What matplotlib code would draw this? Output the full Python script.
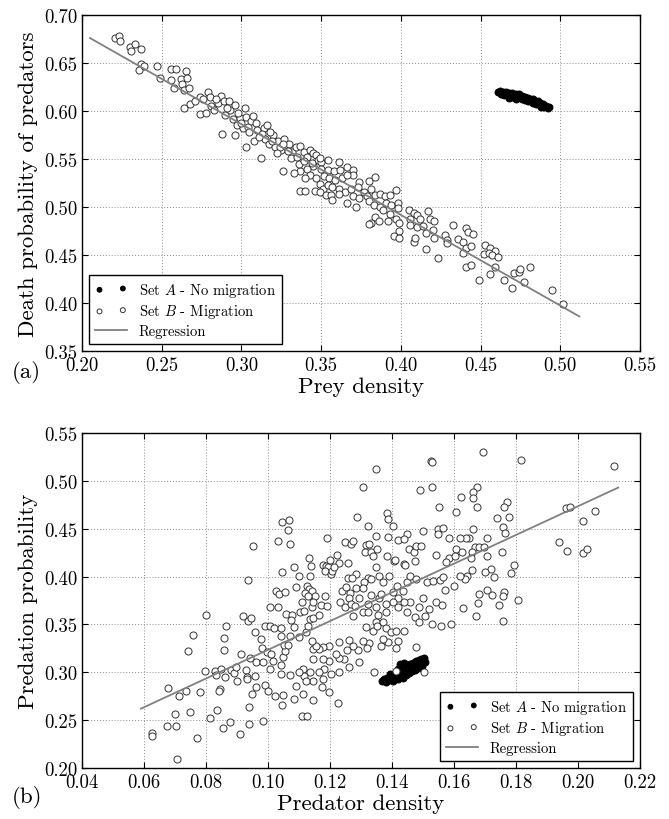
import matplotlib
matplotlib.use("Agg")
import matplotlib.pyplot as plt
import numpy as np
from matplotlib.ticker import FormatStrFormatter

plt.rcParams["font.family"] = "serif"
plt.rcParams["font.serif"] = ["cmr10"]
plt.rcParams["mathtext.fontset"] = "cm"
plt.rcParams["axes.formatter.use_mathtext"] = True

# ---- panel (a): prey density vs death probability of predators ----
prey_set_a = [
    (0.461, 0.6195), (0.462, 0.6205), (0.463, 0.618), (0.464, 0.620), (0.465, 0.6185),
    (0.466, 0.6175), (0.466, 0.620), (0.467, 0.6165), (0.468, 0.619), (0.469, 0.617),
    (0.470, 0.615), (0.470, 0.6185), (0.471, 0.616), (0.472, 0.6175), (0.473, 0.614),
    (0.473, 0.6165), (0.474, 0.618), (0.475, 0.615), (0.476, 0.6125), (0.476, 0.616),
    (0.477, 0.614), (0.478, 0.6115), (0.478, 0.615), (0.479, 0.613), (0.480, 0.6105),
    (0.480, 0.614), (0.481, 0.612), (0.482, 0.6095), (0.483, 0.6125), (0.483, 0.6085),
    (0.484, 0.6105), (0.485, 0.6075), (0.486, 0.610), (0.487, 0.606), (0.487, 0.6085),
    (0.488, 0.6045), (0.489, 0.607), (0.490, 0.604), (0.491, 0.6055), (0.492, 0.6035),
    (0.493, 0.6045), (0.468, 0.614), (0.472, 0.613), (0.465, 0.6165),
]

prey_set_b = [
    (0.221, 0.676), (0.223, 0.678), (0.224, 0.673), (0.230, 0.667), (0.231, 0.663),
    (0.233, 0.670), (0.237, 0.665), (0.237, 0.649), (0.236, 0.643), (0.239, 0.647),
    (0.247, 0.647), (0.249, 0.634), (0.256, 0.644), (0.259, 0.644), (0.265, 0.642),
    (0.256, 0.632), (0.262, 0.633), (0.263, 0.628), (0.266, 0.634), (0.258, 0.624),
    (0.264, 0.622), (0.267, 0.624), (0.264, 0.603), (0.268, 0.607), (0.271, 0.610),
    (0.274, 0.615), (0.274, 0.597), (0.278, 0.598), (0.279, 0.620), (0.280, 0.615),
    (0.281, 0.605), (0.287, 0.616), (0.285, 0.608), (0.289, 0.610), (0.292, 0.610),
    (0.283, 0.601), (0.288, 0.576),
    (0.290, 0.596), (0.293, 0.601), (0.295, 0.592), (0.297, 0.585), (0.296, 0.575),
    (0.299, 0.593), (0.302, 0.603), (0.303, 0.594), (0.301, 0.582), (0.304, 0.583),
    (0.303, 0.563), (0.306, 0.590), (0.309, 0.587), (0.310, 0.580), (0.308, 0.569),
    (0.314, 0.582), (0.316, 0.585), (0.313, 0.576), (0.315, 0.571), (0.317, 0.566),
    (0.320, 0.575), (0.321, 0.563), (0.312, 0.551), (0.323, 0.569), (0.325, 0.559),
    (0.327, 0.571), (0.328, 0.564), (0.330, 0.566), (0.332, 0.557), (0.334, 0.563),
    (0.337, 0.564), (0.339, 0.557), (0.341, 0.552), (0.343, 0.559), (0.345, 0.556),
    (0.347, 0.554), (0.348, 0.549), (0.350, 0.547), (0.345, 0.543), (0.341, 0.540),
    (0.337, 0.538), (0.333, 0.535), (0.326, 0.538), (0.343, 0.533), (0.347, 0.530),
    (0.349, 0.524), (0.351, 0.519), (0.340, 0.530), (0.337, 0.517), (0.340, 0.517),
    (0.346, 0.517), (0.349, 0.516), (0.353, 0.512),
    (0.284, 0.612), (0.291, 0.603), (0.298, 0.598), (0.305, 0.578), (0.307, 0.595),
    (0.311, 0.573), (0.318, 0.578), (0.319, 0.569), (0.324, 0.563), (0.329, 0.558),
    (0.331, 0.551), (0.335, 0.552), (0.336, 0.545), (0.339, 0.548), (0.344, 0.546),
    (0.326, 0.566), (0.322, 0.556), (0.300, 0.588), (0.296, 0.606), (0.276, 0.612),
    (0.349, 0.551), (0.354, 0.549), (0.361, 0.547), (0.350, 0.540), (0.354, 0.539),
    (0.358, 0.537), (0.362, 0.539), (0.366, 0.542), (0.370, 0.539), (0.370, 0.533),
    (0.352, 0.532), (0.355, 0.530), (0.359, 0.528), (0.363, 0.530), (0.366, 0.533),
    (0.374, 0.526), (0.380, 0.527), (0.384, 0.531), (0.354, 0.523), (0.357, 0.521),
    (0.361, 0.519), (0.365, 0.516), (0.369, 0.519), (0.373, 0.521), (0.377, 0.516),
    (0.381, 0.519), (0.356, 0.513), (0.361, 0.514), (0.357, 0.507), (0.366, 0.504),
    (0.370, 0.511), (0.372, 0.500), (0.374, 0.509), (0.379, 0.511), (0.380, 0.506),
    (0.384, 0.513), (0.387, 0.514), (0.390, 0.511), (0.393, 0.513), (0.397, 0.518),
    (0.383, 0.502), (0.387, 0.500), (0.391, 0.504), (0.394, 0.502), (0.398, 0.504),
    (0.398, 0.499), (0.389, 0.497), (0.393, 0.493), (0.397, 0.488), (0.384, 0.490),
    (0.381, 0.483), (0.380, 0.482), (0.386, 0.485), (0.392, 0.485), (0.399, 0.483),
    (0.399, 0.475), (0.396, 0.470), (0.399, 0.468), (0.405, 0.497), (0.408, 0.494),
    (0.406, 0.488), (0.410, 0.492), (0.412, 0.487), (0.417, 0.496), (0.418, 0.487),
    (0.421, 0.485), (0.406, 0.481), (0.410, 0.479), (0.414, 0.480), (0.416, 0.473),
    (0.420, 0.476), (0.421, 0.468), (0.408, 0.464), (0.409, 0.468), (0.416, 0.456),
    (0.423, 0.447), (0.428, 0.471), (0.429, 0.466), (0.429, 0.462), (0.433, 0.481),
    (0.436, 0.467), (0.439, 0.464), (0.441, 0.457), (0.441, 0.478), (0.442, 0.474),
    (0.445, 0.472), (0.444, 0.459), (0.439, 0.452), (0.441, 0.438), (0.444, 0.440),
    (0.453, 0.460), (0.456, 0.457), (0.459, 0.454), (0.452, 0.451), (0.455, 0.452),
    (0.457, 0.450), (0.461, 0.448), (0.459, 0.438), (0.449, 0.424), (0.456, 0.430),
    (0.465, 0.424), (0.470, 0.416), (0.471, 0.431), (0.474, 0.432), (0.475, 0.435),
    (0.481, 0.437), (0.477, 0.422), (0.495, 0.414), (0.502, 0.399),
]

prey_reg_x = [0.205, 0.512]
prey_reg_y = [0.676, 0.386]

# ---- panel (b): predator density vs predation probability ----
pred_set_a = [
    (0.1368, 0.2905), (0.1375, 0.2925), (0.1380, 0.2900), (0.1385, 0.2945), (0.1390, 0.2920),
    (0.1393, 0.2960), (0.1398, 0.2935), (0.1400, 0.2975), (0.1403, 0.2910), (0.1405, 0.2955),
    (0.1410, 0.2990), (0.1412, 0.2940), (0.1415, 0.2970), (0.1418, 0.3030), (0.1420, 0.2925),
    (0.1422, 0.3000), (0.1425, 0.2955), (0.1428, 0.3045), (0.1430, 0.2980), (0.1432, 0.3020),
    (0.1435, 0.2945), (0.1437, 0.3060), (0.1440, 0.3000), (0.1442, 0.3035), (0.1445, 0.2970),
    (0.1447, 0.3075), (0.1450, 0.3010), (0.1452, 0.3050), (0.1455, 0.2990), (0.1458, 0.3090),
    (0.1460, 0.3030), (0.1463, 0.3065), (0.1465, 0.3010), (0.1468, 0.3100), (0.1470, 0.3045),
    (0.1473, 0.3080), (0.1475, 0.3025), (0.1478, 0.3115), (0.1480, 0.3060), (0.1483, 0.3095),
    (0.1485, 0.3045), (0.1488, 0.3125), (0.1490, 0.3075), (0.1493, 0.3140), (0.1495, 0.3100),
    (0.1498, 0.3065), (0.1500, 0.3130), (0.1503, 0.3150), (0.1505, 0.3110), (0.1425, 0.3085),
    (0.1440, 0.3100), (0.1395, 0.2985),
]

pred_set_b = [
    (0.0625, 0.2366), (0.0625, 0.2338), (0.0675, 0.2436), (0.0702, 0.2443), (0.0706, 0.2094),
    (0.0701, 0.2561), (0.0748, 0.2589), (0.0771, 0.2314), (0.0678, 0.2833), (0.0714, 0.2749),
    (0.0735, 0.2805), (0.0782, 0.2791), (0.0742, 0.3220), (0.0757, 0.3394), (0.0801, 0.3603),
    (0.0812, 0.2526), (0.0836, 0.2603), (0.0855, 0.2415), (0.0877, 0.2484), (0.0909, 0.2359),
    (0.0938, 0.2463), (0.0939, 0.2638), (0.0985, 0.2491), (0.0797, 0.3010), (0.0829, 0.3010),
    (0.0832, 0.2972), (0.0849, 0.3035), (0.0845, 0.2826), (0.0842, 0.2801), (0.0861, 0.2955),
    (0.0857, 0.3237), (0.0858, 0.3355), (0.0866, 0.3488), (0.0881, 0.3024), (0.0890, 0.2997),
    (0.0898, 0.3059), (0.0900, 0.2909), (0.0914, 0.3188), (0.0920, 0.3592), (0.0934, 0.3540),
    (0.0946, 0.3564), (0.0934, 0.3965), (0.0952, 0.4317), (0.0928, 0.3028), (0.0932, 0.2955),
    (0.0932, 0.2930), (0.0943, 0.3146), (0.0957, 0.2965), (0.0960, 0.2843), (0.0949, 0.2774),
    (0.0962, 0.3111), (0.0959, 0.3418), (0.0979, 0.3348), (0.0982, 0.3254), (0.0984, 0.3105),
    (0.0989, 0.2871), (0.1000, 0.2801), (0.0997, 0.3209), (0.0990, 0.3488), (0.1005, 0.3488),
    (0.1019, 0.3463), (0.1005, 0.3679), (0.1005, 0.3035), (0.1016, 0.3122), (0.1011, 0.3192),
    (0.1023, 0.2756), (0.1027, 0.3854), (0.1035, 0.3819), (0.1054, 0.3843), (0.1042, 0.2979),
    (0.1043, 0.3080), (0.1050, 0.3164), (0.1056, 0.3226), (0.1053, 0.3289), (0.1041, 0.3383),
    (0.1043, 0.3463), (0.1070, 0.3383), (0.1065, 0.3289), (0.1071, 0.2976), (0.1047, 0.2763),
    (0.1044, 0.2659), (0.1085, 0.2718), (0.1090, 0.2857), (0.1033, 0.3686), (0.1059, 0.3610),
    (0.1076, 0.3599), (0.1073, 0.3547), (0.1083, 0.3477), (0.1045, 0.4045), (0.1091, 0.3895),
    (0.1085, 0.4105), (0.1033, 0.4373), (0.1072, 0.4341), (0.1046, 0.4568), (0.1068, 0.4596),
    (0.1063, 0.4491),
    (0.1348, 0.5125), (0.1526, 0.5205), (0.1529, 0.5195), (0.1305, 0.4934), (0.1490, 0.4906),
    (0.1528, 0.4941), (0.1553, 0.4732), (0.1606, 0.4679), (0.1383, 0.4665), (0.1386, 0.4603),
    (0.1287, 0.4620), (0.1323, 0.4526), (0.1402, 0.4533), (0.1499, 0.4481), (0.1550, 0.4498),
    (0.1563, 0.4505), (0.1547, 0.4446), (0.1585, 0.4404), (0.1606, 0.4289), (0.1348, 0.4428),
    (0.1387, 0.4411), (0.1421, 0.4383), (0.1447, 0.4446), (0.1440, 0.4394), (0.1189, 0.4401),
    (0.1249, 0.4366), (0.1268, 0.4341), (0.1273, 0.4376), (0.1316, 0.4331), (0.1327, 0.4341),
    (0.1314, 0.4254), (0.1332, 0.4254), (0.1351, 0.4289), (0.1338, 0.4219), (0.1385, 0.4219),
    (0.1407, 0.4167), (0.1440, 0.4132), (0.1456, 0.4289), (0.1472, 0.4254), (0.1477, 0.4317),
    (0.1495, 0.4324), (0.1475, 0.4160), (0.1443, 0.4122), (0.1348, 0.4097), (0.1411, 0.4178),
    (0.1542, 0.4226), (0.1585, 0.4195), (0.1604, 0.4212), (0.1574, 0.4150), (0.1131, 0.4192),
    (0.1139, 0.4115), (0.1176, 0.4122), (0.1187, 0.4115), (0.1192, 0.4097), (0.1185, 0.4056),
    (0.1203, 0.4028), (0.1206, 0.4063), (0.1223, 0.4226), (0.1230, 0.4143), (0.1257, 0.4143),
    (0.1284, 0.4028), (0.1257, 0.3986), (0.1271, 0.3982), (0.1284, 0.3878), (0.1321, 0.3982),
    (0.1311, 0.3941), (0.1332, 0.3976), (0.1305, 0.3878), (0.1214, 0.4104), (0.1200, 0.4178),
    (0.1099, 0.4010), (0.1135, 0.4003), (0.1125, 0.3906), (0.1133, 0.3871), (0.1120, 0.3829),
    (0.1142, 0.3850), (0.1153, 0.3801), (0.1185, 0.3801), (0.1171, 0.3704), (0.1189, 0.3697),
    (0.1239, 0.3854), (0.1252, 0.3888), (0.1265, 0.3826), (0.1262, 0.3773), (0.1292, 0.3773),
    (0.1232, 0.3732), (0.1249, 0.3679), (0.1268, 0.3714), (0.1282, 0.3697), (0.1273, 0.3592),
    (0.1305, 0.3634), (0.1323, 0.3634), (0.1359, 0.4003), (0.1370, 0.3941), (0.1391, 0.4010),
    (0.1415, 0.3906), (0.1402, 0.3843), (0.1434, 0.3854), (0.1450, 0.3941), (0.1458, 0.4010),
    (0.1477, 0.3976), (0.1512, 0.3948), (0.1533, 0.3958), (0.1555, 0.3969), (0.1572, 0.3864),
    (0.1566, 0.3993), (0.1601, 0.3906), (0.1542, 0.3732), (0.1561, 0.3704), (0.1520, 0.3662),
    (0.1499, 0.3773), (0.1486, 0.3679), (0.1458, 0.3732), (0.1440, 0.3732), (0.1421, 0.3773),
    (0.1402, 0.3739), (0.1381, 0.3711), (0.1359, 0.3773), (0.1364, 0.3819), (0.1332, 0.3808),
    (0.1321, 0.3714), (0.1348, 0.3679), (0.1381, 0.3627), (0.1354, 0.3599), (0.1419, 0.3679),
    (0.1447, 0.3627), (0.1475, 0.3575), (0.1488, 0.3530), (0.1507, 0.3585), (0.1529, 0.3505),
    (0.1558, 0.3488), (0.1590, 0.3505), (0.1348, 0.3523), (0.1370, 0.3523), (0.1338, 0.3436),
    (0.1352, 0.3488), (0.1316, 0.3470), (0.1381, 0.3460), (0.1397, 0.3418), (0.1413, 0.3436),
    (0.1418, 0.3331), (0.1440, 0.3436), (0.1477, 0.3261), (0.1413, 0.3251), (0.1386, 0.3321),
    (0.1364, 0.3279), (0.1370, 0.3348), (0.1327, 0.3307), (0.1318, 0.3251), (0.1305, 0.3331),
    (0.1289, 0.3237), (0.1273, 0.3279), (0.1262, 0.3341), (0.1254, 0.3237), (0.1230, 0.3314),
    (0.1246, 0.3139), (0.1230, 0.3146), (0.1219, 0.3192), (0.1198, 0.3279), (0.1198, 0.3122),
    (0.1176, 0.3261), (0.1166, 0.3244), (0.1144, 0.3244), (0.1155, 0.3279), (0.1146, 0.3139),
    (0.1176, 0.3139), (0.1142, 0.3331), (0.1099, 0.3366), (0.1123, 0.3418), (0.1128, 0.3488),
    (0.1135, 0.3557), (0.1146, 0.3564), (0.1163, 0.3599), (0.1142, 0.3679), (0.1144, 0.3732),
    (0.1128, 0.3801), (0.1110, 0.3732), (0.1103, 0.3627), (0.1115, 0.3638), (0.1260, 0.3052),
    (0.1295, 0.3111), (0.1343, 0.3000), (0.1504, 0.3007), (0.1182, 0.3035), (0.1203, 0.2983),
    (0.1228, 0.3000), (0.1166, 0.3000), (0.1176, 0.2930), (0.1174, 0.2843), (0.1146, 0.2913),
    (0.1135, 0.3000), (0.1112, 0.3035), (0.1117, 0.2958), (0.1123, 0.2913), (0.1112, 0.2774),
    (0.1144, 0.2714), (0.1198, 0.2791), (0.1225, 0.2679), (0.1110, 0.2540), (0.1125, 0.2547),
    (0.1101, 0.3000), (0.1413, 0.3010),
    (0.1694, 0.5300), (0.1816, 0.5223), (0.2116, 0.5153), (0.1675, 0.4934), (0.1662, 0.4889),
    (0.1660, 0.4826), (0.1623, 0.4829), (0.1673, 0.4732), (0.1772, 0.4784), (0.1761, 0.4725),
    (0.1776, 0.4627), (0.1740, 0.4610), (0.1759, 0.4516), (0.1766, 0.4453), (0.1662, 0.4498),
    (0.1649, 0.4404), (0.1638, 0.4401), (0.1619, 0.4401), (0.1707, 0.4404), (0.1667, 0.4307),
    (0.1681, 0.4307), (0.1698, 0.4307), (0.1657, 0.4254), (0.1625, 0.4254), (0.1705, 0.4220),
    (0.1654, 0.4192), (0.1755, 0.4254), (0.1793, 0.4122), (0.1785, 0.4038), (0.1721, 0.4080),
    (0.1730, 0.4000), (0.1700, 0.4045), (0.1657, 0.4070), (0.1641, 0.4010), (0.1635, 0.3976),
    (0.1619, 0.4010), (0.1705, 0.3864), (0.1681, 0.3819), (0.1724, 0.3808), (0.1760, 0.3836),
    (0.1757, 0.3801), (0.1807, 0.3760), (0.1746, 0.3707), (0.1679, 0.3721), (0.1628, 0.3669),
    (0.1671, 0.3592), (0.1757, 0.3540), (0.1939, 0.4359), (0.1965, 0.4272), (0.1962, 0.4718),
    (0.1975, 0.4732), (0.2016, 0.4578), (0.2054, 0.4690), (0.2016, 0.4247), (0.2030, 0.4289),
]

pred_reg_x = [0.059, 0.213]
pred_reg_y = [0.262, 0.493]

label_a = "Set $A$ - No migration"
label_b = "Set $B$ - Migration"
label_reg = "Regression"


def draw_panel(ax, set_a, set_b, reg_x, reg_y, legend_loc):
    a = np.array(set_a)
    b = np.array(set_b)
    ax.scatter(a[:, 0], a[:, 1], s=26, c="black", edgecolors="black",
               linewidths=0.6, label=label_a, zorder=3)
    ax.scatter(b[:, 0], b[:, 1], s=26, facecolors="white", edgecolors="#333333",
               linewidths=0.7, label=label_b, zorder=3)
    ax.plot(reg_x, reg_y, color="#808080", lw=1.3, label=label_reg, zorder=4)
    ax.grid(True, color="0.55", linestyle=(0, (1, 2)), linewidth=0.7)
    ax.set_axisbelow(True)
    ax.tick_params(direction="in", top=True, right=True, labelsize=13.5, length=4)
    for sp in ax.spines.values():
        sp.set_linewidth(1.0)
    leg = ax.legend(loc=legend_loc, scatterpoints=2, markerscale=0.7, fontsize=10.5,
                    fancybox=False, framealpha=1, edgecolor="black", handlelength=2.2,
                    borderpad=0.4, labelspacing=0.25)
    leg.get_frame().set_linewidth(1.0)


fig = plt.figure(figsize=(6.69, 8.2), dpi=100)
ax1 = fig.add_axes([0.1226, 0.5707, 0.834, 0.4098])
ax2 = fig.add_axes([0.1226, 0.0622, 0.834, 0.4085])

draw_panel(ax1, prey_set_a, prey_set_b, prey_reg_x, prey_reg_y, "lower left")
ax1.set_xlim(0.20, 0.55)
ax1.set_ylim(0.35, 0.70)
ax1.set_xticks(np.arange(0.20, 0.551, 0.05))
ax1.set_yticks(np.arange(0.35, 0.701, 0.05))
ax1.set_xlabel("Prey density", fontsize=16.5, labelpad=2)
ax1.set_ylabel("Death probability of predators", fontsize=16.5, labelpad=4)

draw_panel(ax2, pred_set_a, pred_set_b, pred_reg_x, pred_reg_y, "lower right")
ax2.set_xlim(0.04, 0.22)
ax2.set_ylim(0.20, 0.55)
ax2.set_xticks(np.arange(0.04, 0.221, 0.02))
ax2.set_yticks(np.arange(0.20, 0.551, 0.05))
ax2.set_xlabel("Predator density", fontsize=16.5, labelpad=2)
ax2.set_ylabel("Predation probability", fontsize=16.5, labelpad=4)

for ax in (ax1, ax2):
    ax.xaxis.set_major_formatter(FormatStrFormatter("%.2f"))
    ax.yaxis.set_major_formatter(FormatStrFormatter("%.2f"))

fig.text(0.018, 0.546, "(a)", fontsize=16.5, va="center")
fig.text(0.018, 0.028, "(b)", fontsize=16.5, va="center")

fig.savefig("out.png", dpi=100)
